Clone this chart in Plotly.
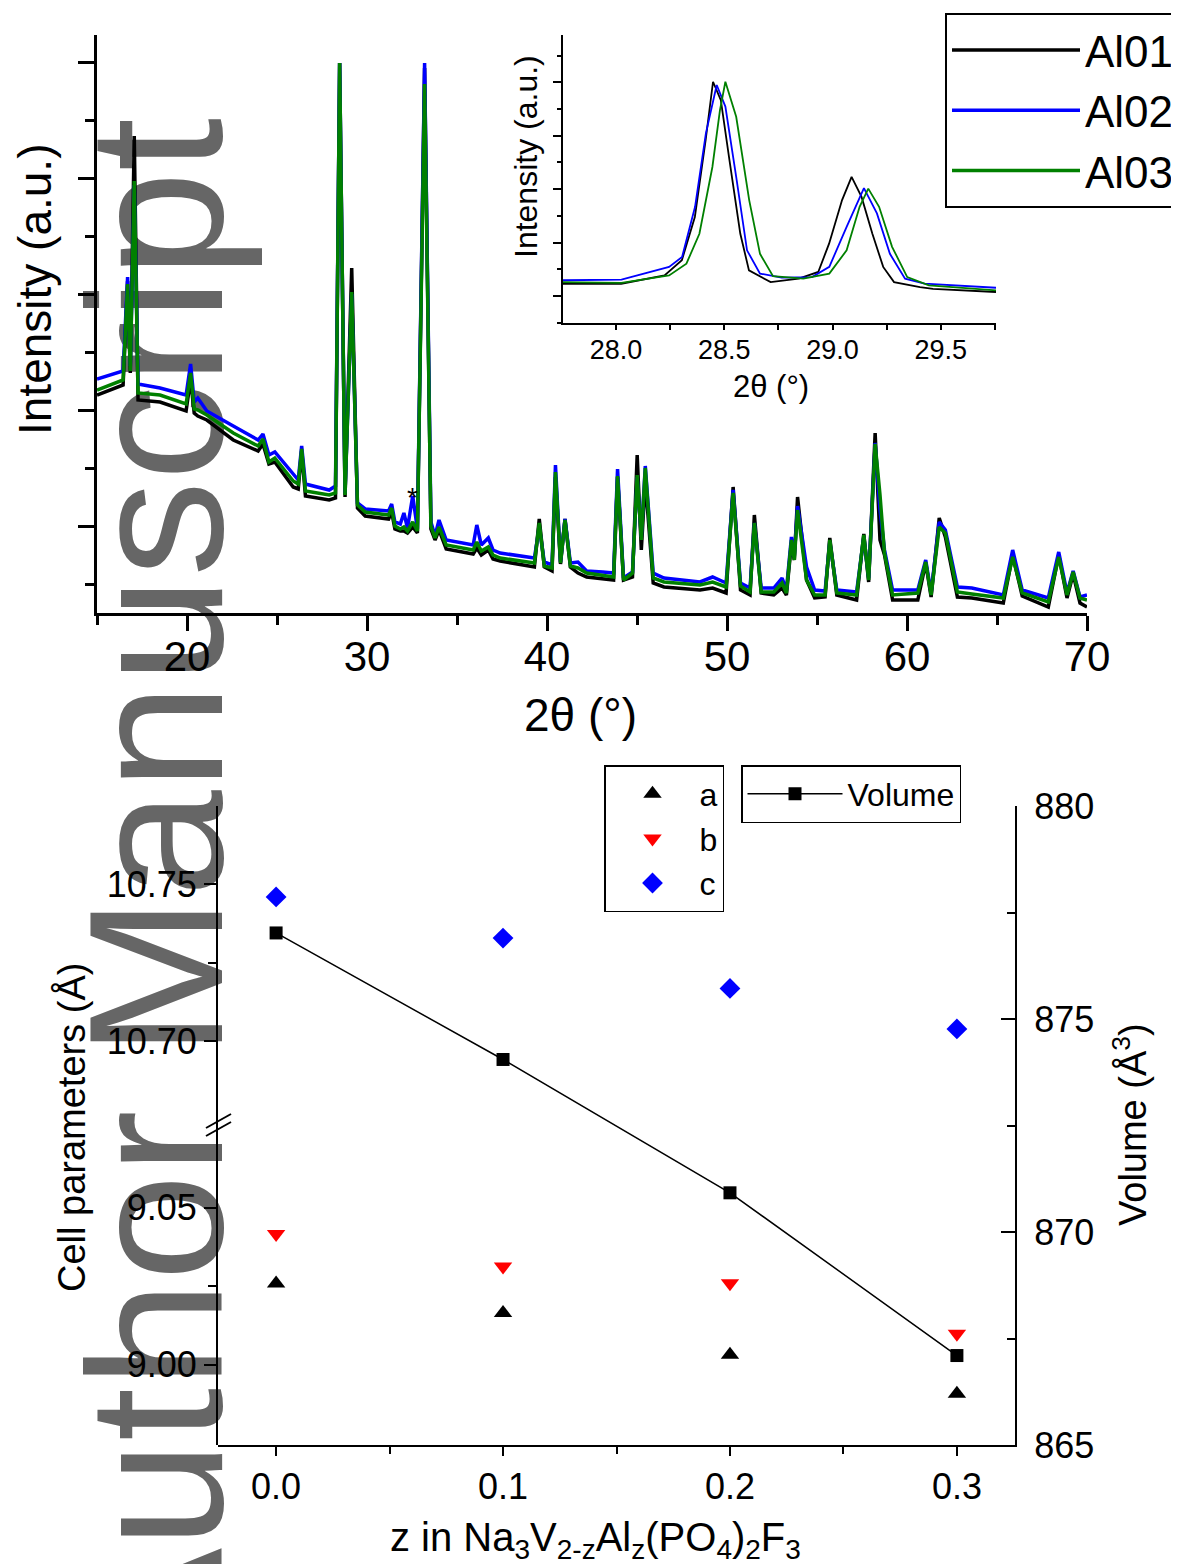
import plotly.graph_objects as go

W, H = 1179, 1564
OFF = 8  # page body margin of the html page
FONT = "Arial, Liberation Sans, Helvetica, sans-serif"


def px(x):
    return (x - OFF) / W


def py(y):
    return 1 - (y - OFF) / H


# ---------------- main XRD pattern (a.u.) ----------------
two_theta = [15.00, 16.00, 16.45, 16.70, 16.85, 17.07, 17.28, 18.50, 19.95, 20.20,
             20.40, 20.60, 21.10, 22.57, 23.95, 24.22, 24.55, 24.88, 25.90, 26.18,
             26.37, 26.58, 27.90, 28.25, 28.48, 28.78, 29.15, 29.47, 29.90, 31.20,
             31.37, 31.55, 31.85, 32.05, 32.25, 32.54, 32.80, 33.20, 33.55, 33.78,
             34.00, 34.40, 35.90, 36.10, 36.35, 36.74, 37.00, 37.40, 39.30, 39.57,
             39.85, 40.28, 40.47, 40.75, 41.00, 41.30, 41.72, 42.20, 43.10, 43.70,
             43.92, 44.25, 44.75, 45.01, 45.24, 45.46, 45.90, 46.50, 48.50, 49.20,
             49.95, 50.34, 50.75, 51.28, 51.52, 51.90, 52.60, 53.06, 53.30, 53.58,
             53.74, 53.92, 54.42, 54.87, 55.45, 55.71, 56.10, 57.20, 57.60, 57.87,
             58.23, 58.50, 58.75, 59.20, 60.60, 61.04, 61.34, 61.79, 62.13, 62.80,
             63.60, 65.35, 65.87, 66.40, 67.85, 68.43, 68.89, 69.23, 69.61, 70.00]

al01 = [218, 225, 228, 332, 240, 477, 213, 211, 202, 234,
        200, 197, 193, 173, 162, 169, 149, 151, 126, 124,
        162, 117, 113, 115, 550, 116, 345, 105, 97, 94,
        101, 84, 82, 82, 80, 86, 80, 545, 84, 73,
        83, 64, 59, 65, 58, 63, 54, 52, 46, 94,
        46, 42, 136, 49, 94, 46, 40, 36, 34, 33,
        136, 33, 36, 158, 63, 133, 30, 26, 23, 25,
        20, 126, 23, 18, 98, 20, 18, 25, 18, 70,
        53, 116, 33, 15, 16, 75, 18, 13, 79, 31,
        180, 73, 58, 13, 13, 50, 16, 95, 76, 16,
        15, 10, 58, 17, 6, 58, 15, 39, 10, 6]

al02 = [234, 240, 242, 336, 247, 428, 229, 225, 218, 249,
        211, 215, 202, 187, 173, 179, 158, 161, 138, 133,
        167, 129, 123, 127, 550, 120, 319, 110, 104, 102,
        109, 91, 89, 100, 85, 117, 84, 550, 91, 77,
        93, 73, 68, 88, 68, 75, 63, 60, 55, 86,
        51, 48, 148, 51, 94, 50, 51, 42, 41, 40,
        144, 35, 41, 136, 76, 147, 40, 35, 31, 36,
        30, 123, 30, 25, 90, 25, 25, 35, 23, 76,
        57, 107, 46, 23, 22, 71, 23, 21, 76, 35,
        170, 103, 63, 23, 23, 53, 20, 91, 83, 26,
        25, 18, 63, 23, 15, 61, 20, 42, 16, 18]

al03 = [223, 230, 233, 329, 242, 432, 220, 218, 209, 240,
        204, 203, 198, 180, 167, 174, 151, 155, 132, 129,
        164, 122, 118, 120, 550, 118, 321, 108, 101, 98,
        105, 87, 84, 86, 82, 91, 82, 529, 87, 75,
        86, 68, 63, 71, 62, 66, 58, 55, 50, 90,
        47, 45, 141, 50, 93, 47, 45, 40, 38, 36,
        137, 33, 40, 138, 73, 145, 35, 31, 28, 31,
        26, 120, 27, 21, 90, 21, 21, 30, 20, 73,
        53, 103, 33, 18, 18, 73, 20, 18, 78, 33,
        169, 118, 60, 18, 20, 51, 18, 86, 80, 21,
        19, 15, 56, 20, 11, 56, 18, 41, 15, 13]

main_x_ticks = [20, 30, 40, 50, 60, 70]
main_y_ticks = [87, 203, 319, 435, 551]
main_y_minor = [29, 145, 261, 377, 493]

# ---------------- inset (28-29.5 deg) ----------------
in_x_al01 = [27.755, 28.024, 28.224, 28.304, 28.364, 28.414, 28.448, 28.484, 28.524, 28.574,
             28.614, 28.714, 28.844, 28.934, 28.984, 29.044, 29.088, 29.134, 29.184, 29.234,
             29.284, 29.404, 29.464, 29.755]
in_y_al01 = [2.46, 2.46, 2.77, 3.34, 4.96, 7.84, 10.02, 9.33, 7.08, 4.33,
             2.96, 2.52, 2.65, 2.90, 3.96, 5.59, 6.46, 5.71, 4.33, 3.09,
             2.52, 2.33, 2.27, 2.15]
in_x_al02 = [27.755, 28.025, 28.245, 28.305, 28.365, 28.415, 28.465, 28.505, 28.555, 28.605,
             28.665, 28.765, 28.905, 28.985, 29.065, 29.145, 29.205, 29.265, 29.335, 29.425,
             29.755]
in_y_al02 = [2.59, 2.61, 3.09, 3.46, 5.34, 8.09, 9.90, 9.09, 6.46, 3.71,
             2.84, 2.69, 2.71, 3.09, 4.59, 6.04, 5.09, 3.58, 2.65, 2.46,
             2.31]
in_x_al03 = [27.755, 28.025, 28.245, 28.325, 28.385, 28.445, 28.480, 28.505, 28.555, 28.615,
             28.665, 28.725, 28.865, 28.985, 29.065, 29.125, 29.165, 29.215, 29.275, 29.345,
             29.445, 29.755]
in_y_al03 = [2.52, 2.49, 2.77, 3.21, 4.33, 6.83, 8.96, 10.02, 8.71, 5.59,
             3.58, 2.74, 2.65, 2.84, 3.71, 5.34, 6.02, 5.34, 3.84, 2.71,
             2.40, 2.21]
inset_x_ticks = [28.0, 28.5, 29.0, 29.5]
inset_x_labels = ["28.0", "28.5", "29.0", "29.5"]
inset_x_minor = [28.25, 28.75, 29.25, 29.75]
inset_y_ticks = [2, 4, 6, 8, 10]
inset_y_minor = [1, 3, 5, 7, 9, 11]

# ---------------- lattice parameters ----------------
z_al = [0.0, 0.1, 0.2, 0.3]
param_a = [9.0259, 9.0165, 9.0032, 8.9908]
param_b = [9.0417, 9.0313, 9.0260, 9.0099]
param_c = [10.7459, 10.7328, 10.7168, 10.7039]
volume = [877.02, 874.05, 870.92, 867.10]

z_ticks = [0.0, 0.1, 0.2, 0.3]
z_labels = ["0.0", "0.1", "0.2", "0.3"]
z_minor = [0.05, 0.15, 0.25]
vol_ticks = [865, 870, 875, 880]
vol_minor = [867.5, 872.5, 877.5]
upper_ticks = [10.70, 10.75]
upper_labels = ["10.70", "10.75"]
upper_minor = [10.725]
lower_ticks = [9.00, 9.05]
lower_labels = ["9.00", "9.05"]
lower_minor = [9.025]

fig = go.Figure()

# main pattern
for name, ys, col in [("Al01", al01, "#000000"), ("Al02", al02, "#0000FF"), ("Al03", al03, "#008000")]:
    fig.add_trace(go.Scatter(x=two_theta, y=ys, mode="lines", name=name,
                             line=dict(color=col, width=3.5), xaxis="x", yaxis="y",
                             legend="legend"))

# inset
for xs, ys, col in [(in_x_al01, in_y_al01, "#000000"), (in_x_al02, in_y_al02, "#0000FF"),
                    (in_x_al03, in_y_al03, "#008000")]:
    fig.add_trace(go.Scatter(x=xs, y=ys, mode="lines", showlegend=False,
                             line=dict(color=col, width=1.8), xaxis="x2", yaxis="y2"))

# lattice parameters
fig.add_trace(go.Scatter(x=z_al, y=param_a, mode="markers", name="a",
                         marker=dict(symbol="triangle-up", size=16, color="#000000"),
                         xaxis="x3", yaxis="y5", legend="legend2"))
fig.add_trace(go.Scatter(x=z_al, y=param_b, mode="markers", name="b",
                         marker=dict(symbol="triangle-down", size=16, color="#FF0000"),
                         xaxis="x3", yaxis="y5", legend="legend2"))
fig.add_trace(go.Scatter(x=z_al, y=param_c, mode="markers", name="c",
                         marker=dict(symbol="diamond", size=16, color="#0000FF"),
                         xaxis="x3", yaxis="y4", legend="legend2"))
fig.add_trace(go.Scatter(x=z_al, y=volume, mode="lines+markers", name="Volume",
                         line=dict(color="#000000", width=1.5),
                         marker=dict(symbol="square", size=13, color="#000000"),
                         xaxis="x3", yaxis="y3", legend="legend3"))

axis_common = dict(showgrid=False, zeroline=False, showline=True, linecolor="black",
                   tickcolor="black", tickfont=dict(family=FONT, color="black"))

layout = dict(
    width=W, height=H,
    margin=dict(l=0, r=0, t=0, b=0, autoexpand=False),
    paper_bgcolor="white", plot_bgcolor="rgba(0,0,0,0)",
    font=dict(family=FONT, color="black"),
    xaxis=dict(axis_common, domain=[px(97), px(1087)], anchor="y", range=[15, 70],
               linewidth=3, ticks="outside", ticklen=15, tickwidth=3, ticklabelstandoff=-10,
               tickmode="array", tickvals=main_x_ticks, tickfont=dict(family=FONT, size=42, color="black"),
               minor=dict(tick0=15, dtick=5, ticks="outside", ticklen=9, tickwidth=3, tickcolor="black")),
    yaxis=dict(axis_common, domain=[py(613), py(35)], anchor="x", range=[0, 578],
               linewidth=3, ticks="outside", ticklen=16, tickwidth=3,
               tickmode="array", tickvals=main_y_ticks, showticklabels=False,
               minor=dict(tickmode="array", tickvals=main_y_minor, ticks="outside", ticklen=9,
                          tickwidth=3, tickcolor="black")),
    xaxis2=dict(axis_common, domain=[px(563), px(996)], anchor="y2", range=[27.755, 29.755],
                linewidth=1.5, ticks="outside", ticklen=5, tickwidth=1.5, ticklabelstandoff=-3,
                tickmode="array", tickvals=inset_x_ticks, ticktext=inset_x_labels,
                tickfont=dict(family=FONT, size=27, color="black"),
                minor=dict(tickmode="array", tickvals=inset_x_minor, ticks="outside", ticklen=5,
                           tickwidth=1.5, tickcolor="black")),
    yaxis2=dict(axis_common, domain=[py(323), py(35)], anchor="x2", range=[0.99, 11.77],
                linewidth=1.5, ticks="outside", ticklen=8, tickwidth=1.5,
                tickmode="array", tickvals=inset_y_ticks, showticklabels=False,
                minor=dict(tickmode="array", tickvals=inset_y_minor, ticks="outside", ticklen=4,
                           tickwidth=1.5, tickcolor="black")),
    xaxis3=dict(axis_common, domain=[px(218), px(1015)], anchor="y3", range=[-0.0256, 0.3256],
                linewidth=2, ticks="outside", ticklen=9, tickwidth=2,
                tickmode="array", tickvals=z_ticks, ticktext=z_labels,
                tickfont=dict(family=FONT, size=36, color="black"),
                minor=dict(tickmode="array", tickvals=z_minor, ticks="outside", ticklen=7,
                           tickwidth=2, tickcolor="black")),
    yaxis3=dict(axis_common, domain=[py(1445), py(806)], anchor="x3", side="right", range=[865, 880],
                linewidth=2, ticks="inside", ticklen=14, tickwidth=2,
                tickmode="array", tickvals=vol_ticks, ticklabelstandoff=10,
                tickfont=dict(family=FONT, size=36, color="black"),
                minor=dict(tickmode="array", tickvals=vol_minor, ticks="inside", ticklen=8,
                           tickwidth=2, tickcolor="black")),
    yaxis4=dict(axis_common, domain=[py(1123), py(806)], anchor="x3", side="left",
                range=[10.674, 10.7748],
                linewidth=2, ticks="outside", ticklen=12, tickwidth=2,
                tickmode="array", tickvals=upper_ticks, ticktext=upper_labels,
                tickfont=dict(family=FONT, size=36, color="black"),
                minor=dict(tickmode="array", tickvals=upper_minor, ticks="outside", ticklen=8,
                           tickwidth=2, tickcolor="black")),
    yaxis5=dict(axis_common, domain=[py(1445), py(1123)], anchor="x3", side="left",
                range=[8.9745, 9.077],
                linewidth=2, ticks="outside", ticklen=12, tickwidth=2,
                tickmode="array", tickvals=lower_ticks, ticktext=lower_labels,
                tickfont=dict(family=FONT, size=36, color="black"),
                minor=dict(tickmode="array", tickvals=lower_minor, ticks="outside", ticklen=8,
                           tickwidth=2, tickcolor="black")),
    legend=dict(x=px(945), y=py(13), xanchor="left", yanchor="top", bgcolor="white",
                bordercolor="black", borderwidth=2, itemwidth=128,
                font=dict(family=FONT, size=44, color="black")),
    legend2=dict(x=px(604), y=py(765), xanchor="left", yanchor="top", bgcolor="white",
                 bordercolor="black", borderwidth=1.5, itemwidth=84,
                 font=dict(family=FONT, size=32, color="black")),
    legend3=dict(x=px(741), y=py(765), xanchor="left", yanchor="top", bgcolor="white",
                 bordercolor="black", borderwidth=1.5, itemwidth=95,
                 font=dict(family=FONT, size=32, color="black")),
    showlegend=True,
)
fig.update_layout(**layout)

# watermark (behind everything)
fig.add_shape(type="rect", xref="paper", yref="paper",
              x0=px(87), x1=px(187), y0=py(897) - 0.3, y1=py(897) + 0.3,
              layer="below", line=dict(width=0), fillcolor="rgba(0,0,0,0)",
              label=dict(text="Author Manuscript", textangle=-90, textposition="middle center",
                         font=dict(family=FONT, size=192, color="#666666")))

# axis break marks
for dy in (0, 8):
    fig.add_shape(type="line", xref="paper", yref="paper",
                  x0=px(206), y0=py(1128 + dy), x1=px(231), y1=py(1114 + dy),
                  line=dict(color="black", width=2))

# titles
def title(text, x, y, size, angle=0):
    fig.add_annotation(text=text, x=px(x), y=py(y), xref="paper", yref="paper",
                       xanchor="center", yanchor="middle", showarrow=False, textangle=angle,
                       font=dict(family=FONT, size=size, color="black"))

title("Intensity (a.u.)", 35, 290, 46, -90)
title("2θ (°)", 580, 715, 46)
title("Intensity (a.u.)", 526, 157, 32, -90)
title("2θ (°)", 771, 386, 31)
title("Cell parameters (Å)", 71, 1128, 38, -90)
title("Volume (Å<sup>3</sup>)", 1130, 1125, 38, -90)
title("z in Na<sub>3</sub>V<sub>2-z</sub>Al<sub>z</sub>(PO<sub>4</sub>)<sub>2</sub>F<sub>3</sub>", 595, 1540, 40)

# impurity marker
fig.add_annotation(text="*", x=32.5, y=116, xref="x", yref="y", showarrow=False,
                   xanchor="center", yanchor="middle", font=dict(family=FONT, size=28, color="black"))

fig.write_html("out.html")
